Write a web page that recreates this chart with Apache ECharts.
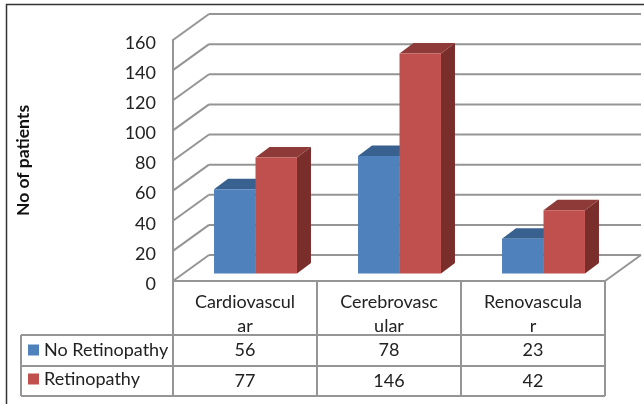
<!DOCTYPE html>
<html>
<head>
<meta charset="utf-8">
<style>html,body{margin:0;padding:0;background:#fff}#chart{width:644px;height:404px}</style>
<script src="https://cdn.jsdelivr.net/npm/echarts@6/dist/echarts.min.js"></script>
</head>
<body>
<div id="chart"></div>
<script>
var categories = ['Cardiovascul\nar', 'Cerebrovasc\nular', 'Renovascula\nr'];
var noRetinopathy = [56, 78, 23];
var retinopathy = [77, 146, 42];
var yTicks = [0, 20, 40, 60, 80, 100, 120, 140, 160];

var font = 'Lato, Carlito, sans-serif';
var lineColor = '#959595';
var textColor = '#222';
// depth of the 3d box and of the bars inside it
var wallDX = 36, wallDY = -26;
var barDX = 10.5, barDY = -7.5;
var sideDX = 14, sideDY = -10.5;
var barShare = 0.288;

function line(x1, y1, x2, y2, w, c) {
	return {
		type: 'line',
		shape: { x1: x1, y1: y1, x2: x2, y2: y2 },
		style: { stroke: c || lineColor, lineWidth: w || 2 }
	};
}

function poly(points, color) {
	return { type: 'polygon', shape: { points: points }, style: { fill: color } };
}

// 3d column: slot 0 is left of the category centre, slot 1 right of it
function barRender(slot, front, top, side) {
	return function (params, api) {
		var cat = api.value(0);
		var p = api.coord([cat, api.value(1)]);
		var b = api.coord([cat, 0]);
		var w = api.size([1, 0])[0] * barShare;
		var x0 = p[0] + barDX - w + slot * w;
		var x1 = x0 + w;
		var y0 = p[1] + barDY;
		var y1 = b[1] + barDY;
		return {
			type: 'group',
			children: [
				poly([[x1, y0], [x1 + sideDX, y0 + sideDY], [x1 + sideDX, y1 + sideDY], [x1, y1]], side),
				poly([[x0, y0], [x0 + sideDX, y0 + sideDY], [x1 + sideDX, y0 + sideDY], [x1, y0]], top),
				poly([[x0, y0], [x1, y0], [x1, y1], [x0, y1]], front)
			]
		};
	};
}

// back wall lines and the diagonals coming off the y axis
function wallRender(params, api) {
	var g = params.coordSys;
	var y = api.coord([0, api.value(0)])[1];
	var kids = [
		line(g.x, y, g.x + wallDX, y + wallDY),
		line(g.x + wallDX, y + wallDY, g.x + g.width + wallDX, y + wallDY)
	];
	if (api.value(0) === 0) {
		kids.push(line(g.x + g.width, y, g.x + g.width + wallDX, y + wallDY));
	}
	return { type: 'group', children: kids };
}

// data table under the axis, one column per category
var rowTops = [335, 366, 396];
var tableLeft = 21;
function tableRender(params, api) {
	var g = params.coordSys;
	var band = api.size([1, 0])[0];
	var cx = api.coord([api.value(0), 0])[0];
	var right = cx + band / 2;
	var kids = [
		line(right, g.y + g.height, right, rowTops[2]),
		{ type: 'text', style: { x: cx, y: (rowTops[0] + rowTops[1]) / 2, text: String(api.value(1)), font: '18px ' + font, fill: textColor, align: 'center', verticalAlign: 'middle' } },
		{ type: 'text', style: { x: cx, y: (rowTops[1] + rowTops[2]) / 2, text: String(api.value(2)), font: '18px ' + font, fill: textColor, align: 'center', verticalAlign: 'middle' } }
	];
	if (params.dataIndex === 0) {
		var l = g.x;
		kids.push(line(l, g.y + g.height, l, rowTops[2]));
		kids.push(line(tableLeft, rowTops[0], tableLeft, rowTops[2]));
		rowTops.forEach(function (t) {
			kids.push(line(tableLeft, t, g.x + g.width, t));
		});
		kids.push(line(g.x, g.y + g.height, g.x + g.width, g.y + g.height));
	}
	return { type: 'group', children: kids };
}

var myChart = echarts.init(document.getElementById('chart'));

var option = {
	animation: false,
	backgroundColor: '#fff',
	grid: { left: 173, top: 40, width: 432, height: 241 },
	legend: {
		data: ['No Retinopathy', 'Retinopathy'],
		orient: 'vertical',
		left: 23,
		top: 336,
		itemWidth: 11,
		itemHeight: 11,
		itemGap: 11,
		icon: 'rect',
		selectedMode: false,
		textStyle: { fontFamily: font, fontSize: 18, color: textColor }
	},
	xAxis: {
		type: 'category',
		data: categories,
		axisLine: { show: false },
		axisTick: { show: false },
		axisLabel: {
			margin: 9,
			fontFamily: font,
			fontSize: 18,
			lineHeight: 24,
			color: textColor,
			interval: 0
		}
	},
	yAxis: {
		type: 'value',
		min: 0,
		max: 160,
		interval: 20,
		name: 'No of patients',
		nameLocation: 'middle',
		nameGap: 141,
		nameRotate: 90,
		nameTextStyle: { fontFamily: font, fontSize: 17.5, fontWeight: 'bold', color: '#111' },
		axisLine: { show: true, lineStyle: { color: lineColor, width: 2 } },
		axisTick: { show: false },
		splitLine: { show: false },
		axisLabel: { margin: 17, fontFamily: font, fontSize: 18, color: textColor, verticalAlign: 'top', lineHeight: 6 }
	},
	series: [{
		name: 'wall',
		type: 'custom',
		renderItem: wallRender,
		data: yTicks.map(function (t) { return [t]; }),
		encode: { y: 0 },
		silent: true,
		z: 1
	}, {
		name: 'table',
		type: 'custom',
		renderItem: tableRender,
		data: categories.map(function (c, i) { return [i, noRetinopathy[i], retinopathy[i]]; }),
		encode: { x: 0 },
		silent: true,
		z: 1
	}, {
		name: 'No Retinopathy',
		type: 'custom',
		renderItem: barRender(0, '#4F81BD', '#38618F', '#2F5480'),
		itemStyle: { color: '#4F81BD' },
		data: noRetinopathy.map(function (v, i) { return [i, v]; }),
		encode: { x: 0, y: 1 },
		z: 2
	}, {
		name: 'Retinopathy',
		type: 'custom',
		renderItem: barRender(1, '#C0504D', '#8E3A38', '#7A2E2C'),
		itemStyle: { color: '#C0504D' },
		data: retinopathy.map(function (v, i) { return [i, v]; }),
		encode: { x: 0, y: 1 },
		z: 3
	}],
	// photo frame of the original figure
	graphic: [{
		type: 'polyline',
		shape: { points: [[6.5, 404], [6.5, 4.5], [644, 4.5]] },
		style: { stroke: '#333', lineWidth: 1.5, fill: 'none' },
		silent: true
	}]
};

myChart.setOption(option);
</script>
</body>
</html>
